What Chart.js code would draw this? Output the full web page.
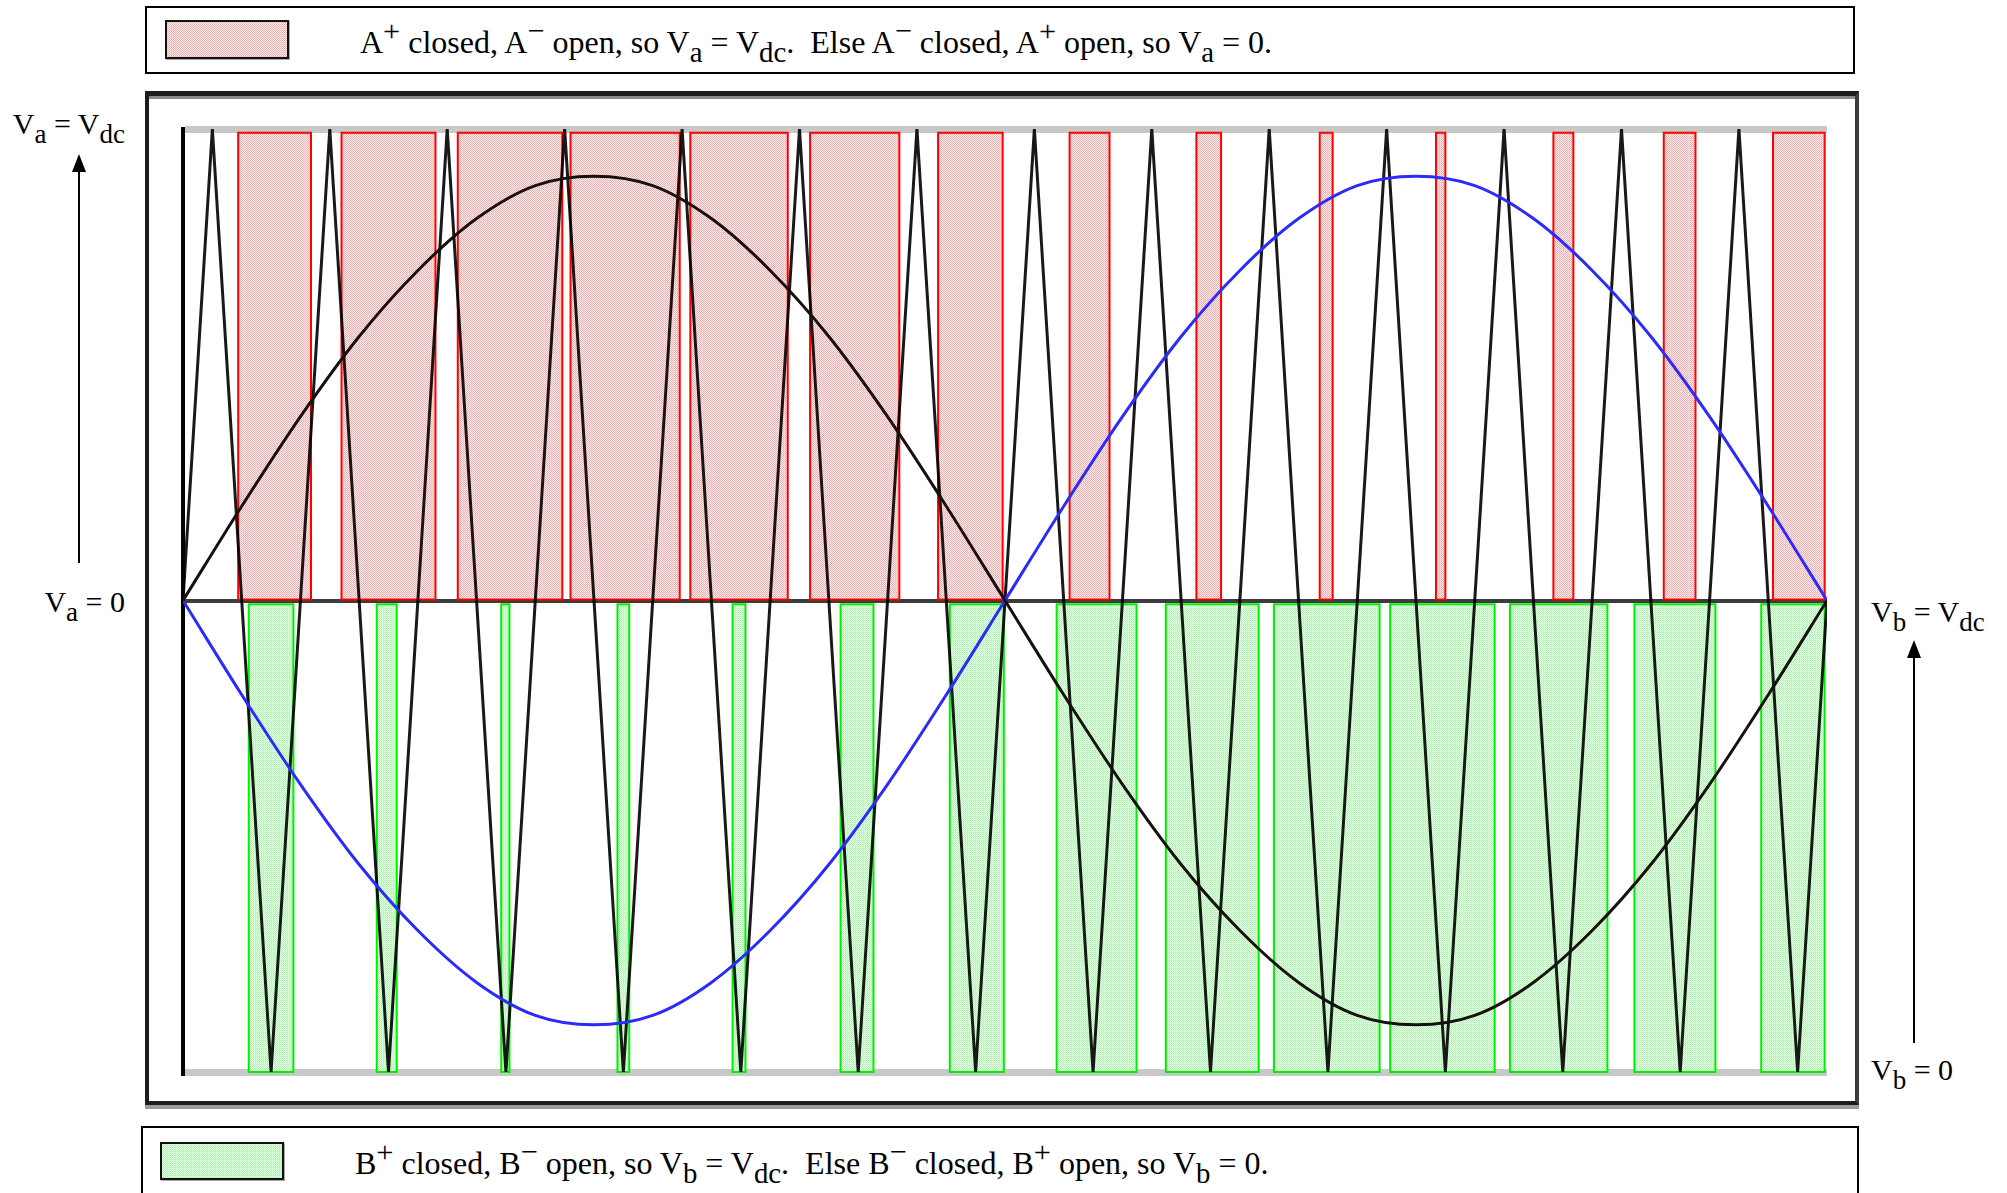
<!DOCTYPE html>
<html>
<head>
<meta charset="utf-8">
<title>Unipolar PWM switching</title>
<script src="https://cdn.jsdelivr.net/npm/chart.js@4.4.0/dist/chart.umd.min.js"></script>
<style>
  body { margin: 0; background: #fff; }
  #wrap { position: relative; width: 2007px; height: 1193px; overflow: hidden; }
  #plotBox { position: absolute; left: 0; top: 0; width: 2007px; height: 1193px; }
  .box { position: absolute; box-sizing: border-box; border: 2px solid #000; background: #fff; }
  .frame { position: absolute; box-sizing: border-box; left: 145px; top: 91px; width: 1714px; height: 1014px;
           border: 4px solid #1c1c1c; border-top-width: 5px; border-right-color: #3c3c3c;
           box-shadow: inset 0 3px 0 #8a8a8a, 0 4px 0 #9a9a9a; }
  .swatch { position: absolute; box-sizing: border-box; border: 2px solid #111; box-shadow: 1px 1px 0 #aaa; }
  .pink { background: repeating-conic-gradient(#ffaaaa 0 25%, #fff2f2 0 50%) 0 0 / 2px 2px; }
  .green { background: repeating-conic-gradient(#a6ffa6 0 25%, #f2fff2 0 50%) 0 0 / 2px 2px; }
  .lbl { position: absolute; font-family: "Liberation Serif", "Times New Roman", serif; font-size: 30px;
         line-height: 30px; color: #000; white-space: pre; }
  .lbl.key { font-size: 32px; line-height: 32px; }
  .lbl sup { font-size: 0.95em; vertical-align: 0.4em; line-height: 0; }
  .lbl sub { font-size: 0.9em; vertical-align: -0.32em; line-height: 0; }
  .stem { position: absolute; width: 2px; background: #000; }
  .head { position: absolute; width: 0; height: 0; border-left: 7px solid transparent;
          border-right: 7px solid transparent; border-bottom: 18px solid #000; }
</style>
</head>
<body>
<div id="wrap">
  <div class="box" style="left:145px; top:6px; width:1710px; height:68px;"></div>
  <div class="swatch pink" style="left:165px; top:20px; width:124px; height:39px;"></div>
  <div class="lbl key" style="left:360px; top:26px;">A<sup>+</sup> closed, A<sup>−</sup> open, so V<sub>a</sub> = V<sub>dc</sub>.  Else A<sup>−</sup> closed, A<sup>+</sup> open, so V<sub>a</sub> = 0.</div>

  <div class="frame"></div>

  <div class="box" style="left:141px; top:1126px; width:1718px; height:120px;"></div>
  <div class="swatch green" style="left:160px; top:1142px; width:124px; height:38px;"></div>
  <div class="lbl key" style="left:355px; top:1147px;">B<sup>+</sup> closed, B<sup>−</sup> open, so V<sub>b</sub> = V<sub>dc</sub>.  Else B<sup>−</sup> closed, B<sup>+</sup> open, so V<sub>b</sub> = 0.</div>

  <div class="lbl" style="right:1882px; top:109px;">V<sub>a</sub> = V<sub>dc</sub></div>
  <div class="head" style="left:72px; top:154px;"></div>
  <div class="stem" style="left:78px; top:170px; height:393px;"></div>
  <div class="lbl" style="right:1882px; top:587px;">V<sub>a</sub> = 0</div>

  <div class="lbl" style="left:1871px; top:597px;">V<sub>b</sub> = V<sub>dc</sub></div>
  <div class="head" style="left:1907px; top:640px;"></div>
  <div class="stem" style="left:1913px; top:656px; height:387px;"></div>
  <div class="lbl" style="left:1871px; top:1055px;">V<sub>b</sub> = 0</div>

  <div id="plotBox"><canvas id="pwmChart"></canvas></div>
</div>
<script>
// time axis in carrier periods (14 carrier periods per fundamental cycle)
const carrierU = [0, 0.25, 0.75, 1.25, 1.75, 2.25, 2.75, 3.25, 3.75, 4.25, 4.75, 5.25, 5.75, 6.25, 6.75,
                  7.25, 7.75, 8.25, 8.75, 9.25, 9.75, 10.25, 10.75, 11.25, 11.75, 12.25, 12.75, 13.25, 13.75, 14];
const carrierV = [0, 1, -1, 1, -1, 1, -1, 1, -1, 1, -1, 1, -1, 1, -1,
                  1, -1, 1, -1, 1, -1, 1, -1, 1, -1, 1, -1, 1, -1, 0];

// reference waves for leg A (black) and leg B (blue)
const refU = [0, 0.5, 1, 1.5, 2, 2.5, 3, 3.5, 4, 4.5, 5, 5.5, 6, 6.5, 7,
              7.5, 8, 8.5, 9, 9.5, 10, 10.5, 11, 11.5, 12, 12.5, 13, 13.5, 14];
const refA = [0, 0.20, 0.39, 0.56, 0.70, 0.81, 0.88, 0.90, 0.88, 0.81, 0.70, 0.56, 0.39, 0.20, 0,
              -0.20, -0.39, -0.56, -0.70, -0.81, -0.88, -0.90, -0.88, -0.81, -0.70, -0.56, -0.39, -0.20, 0];
const refB = [0, -0.20, -0.39, -0.56, -0.70, -0.81, -0.88, -0.90, -0.88, -0.81, -0.70, -0.56, -0.39, -0.20, 0,
              0.20, 0.39, 0.56, 0.70, 0.81, 0.88, 0.90, 0.88, 0.81, 0.70, 0.56, 0.39, 0.20, 0];

// intervals where A+ is closed (Va = Vdc)
const aOnStart = [0.47, 1.35, 2.34, 3.30, 4.32, 5.34, 6.43, 7.55, 8.63, 9.68, 10.67, 11.67, 12.61, 13.54];
const aOnEnd   = [1.09, 2.15, 3.23, 4.23, 5.15, 6.10, 6.98, 7.89, 8.84, 9.79, 10.75, 11.84, 12.88, 13.98];

// intervals where B+ is closed (Vb = Vdc)
const bOnStart = [0.56, 1.65, 2.71, 3.70, 4.68, 5.60, 6.53, 7.44, 8.37, 9.29, 10.28, 11.30, 12.36, 13.44];
const bOnEnd   = [0.94, 1.82, 2.78, 3.80, 4.79, 5.88, 6.99, 8.12, 9.16, 10.19, 11.17, 12.13, 13.05, 13.98];

const makePattern = (dark, light) => {
  const c = document.createElement('canvas');
  c.width = 2; c.height = 2;
  const g = c.getContext('2d');
  g.fillStyle = light; g.fillRect(0, 0, 2, 2);
  g.fillStyle = dark; g.fillRect(0, 0, 1, 1); g.fillRect(1, 1, 1, 1);
  return g.createPattern(c, 'repeat');
};
const pinkFill = makePattern('#ffaaaa', '#fff2f2');
const greenFill = makePattern('#a6ffa6', '#f2fff2');

// switch-state rectangles, drawn under the waveforms
const switchBands = {
  id: 'switchBands',
  beforeDatasetsDraw(chart) {
    const { ctx, scales: { x, y } } = chart;
    const band = (starts, ends, top, bottom, fill, stroke) => {
      const y0 = y.getPixelForValue(top);
      const y1 = y.getPixelForValue(bottom);
      ctx.save();
      ctx.fillStyle = fill;
      ctx.strokeStyle = stroke;
      ctx.lineWidth = 2;
      starts.forEach((s, i) => {
        const x0 = x.getPixelForValue(s);
        const x1 = x.getPixelForValue(ends[i]);
        ctx.fillRect(x0, y0, x1 - x0, y1 - y0);
        ctx.strokeRect(x0, y0, x1 - x0, y1 - y0);
      });
      ctx.restore();
    };
    band(aOnStart, aOnEnd, 0.992, 0.002, pinkFill, '#ff0000');
    band(bOnStart, bOnEnd, -0.008, -1, greenFill, '#00ee00');
  }
};

const toPoints = (xs, ys) => xs.map((u, i) => ({ x: u, y: ys[i] }));

new Chart(document.getElementById('pwmChart'), {
  type: 'scatter',
  data: {
    datasets: [
      {
        label: 'Va reference',
        data: toPoints(refU, refA),
        showLine: true,
        borderColor: '#161010',
        borderWidth: 3,
        pointRadius: 0,
        cubicInterpolationMode: 'monotone'
      },
      {
        label: 'Vb reference',
        data: toPoints(refU, refB),
        showLine: true,
        borderColor: '#2b2bff',
        borderWidth: 3,
        pointRadius: 0,
        cubicInterpolationMode: 'monotone'
      },
      {
        label: 'Carrier',
        data: toPoints(carrierU, carrierV),
        showLine: true,
        borderColor: 'rgba(0,0,0,0.9)',
        borderWidth: 3,
        pointRadius: 0,
        tension: 0
      }
    ]
  },
  options: {
    responsive: true,
    maintainAspectRatio: false,
    animation: false,
    layout: { padding: { left: 183, right: 180, top: 129, bottom: 121 } },
    plugins: { legend: { display: false }, tooltip: { enabled: false } },
    scales: {
      x: { type: 'linear', min: 0, max: 14, display: false },
      y: {
        min: -1,
        max: 1,
        ticks: { display: false, stepSize: 1 },
        grid: {
          drawTicks: false,
          color: c => (c.tick.value === 0 ? '#3c3c3c' : '#c8c8c8'),
          lineWidth: c => (c.tick.value === 0 ? 4 : 7)
        },
        border: { display: true, color: '#000', width: 4 },
        afterFit: s => { s.width = 0; }
      }
    }
  },
  plugins: [switchBands]
});
</script>
</body>
</html>
